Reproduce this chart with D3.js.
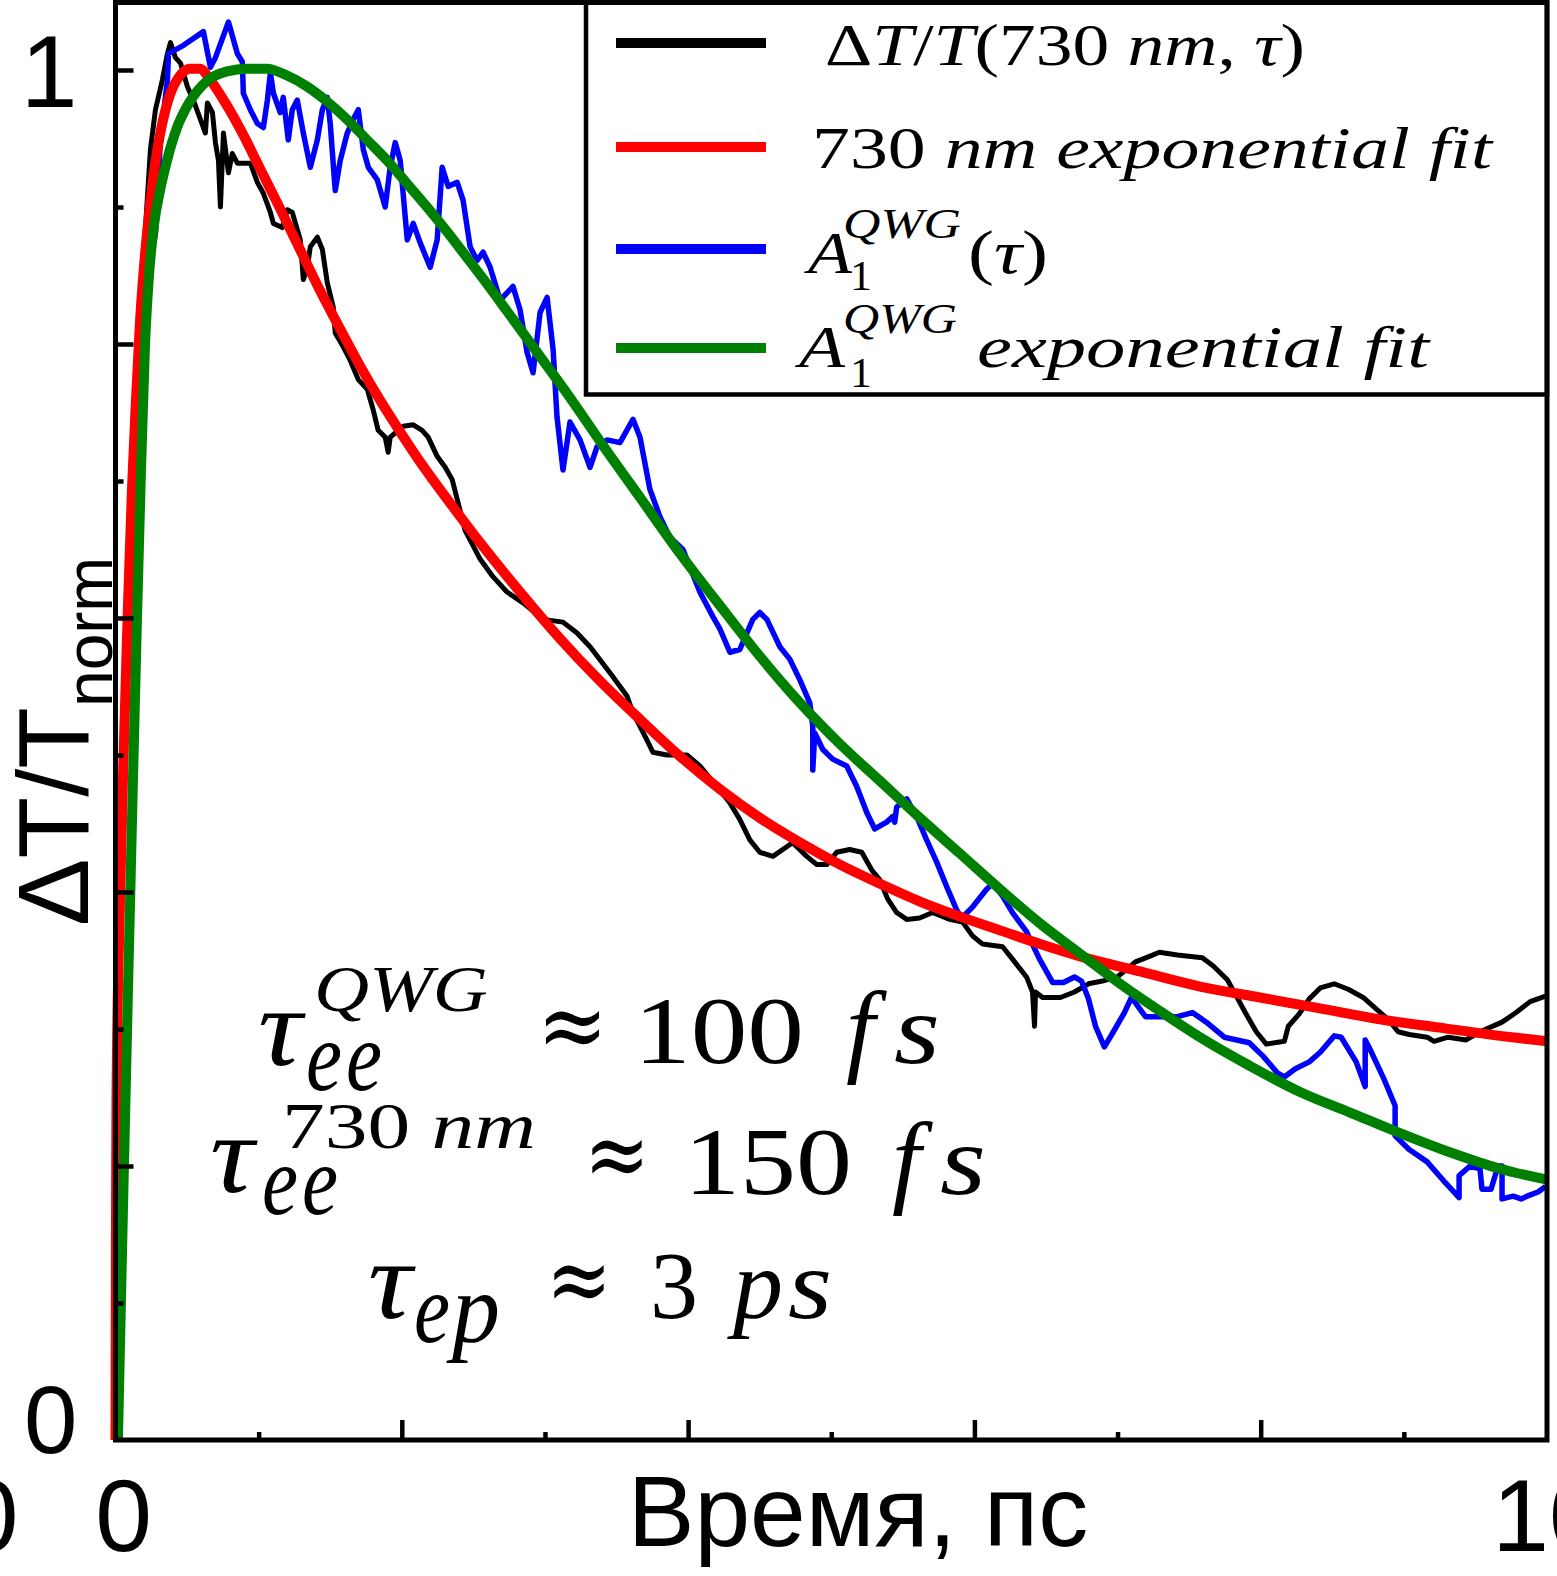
<!DOCTYPE html>
<html>
<head>
<meta charset="utf-8">
<script src="https://cdn.jsdelivr.net/npm/d3@7"></script>
<style>
  html, body { margin: 0; padding: 0; background: #fff; }
  svg { display: block; }
</style>
</head>
<body>
<svg id="chart" width="1557" height="1576"></svg>
<script>
// ---- data: time in ps, normalised ΔT/T ----
const timeDomain = [0, 10];
const signalDomain = [0, 1.05];
const timeTickLabels = ["0", "10"];
const signalTickLabels = ["0", "1"];
const timeMajorTicks = [2, 4, 6, 8];
const timeMinorTicks = [1, 3, 5, 7, 9];
const signalMajorTicks = [0.2, 0.4, 0.6, 0.8, 1.0];
const signalMinorTicks = [0.1, 0.3, 0.5, 0.7, 0.9];

// ΔT/T at 730 nm (measured)
const dt730 = [
  [0.007,0.001],[0.021,0.103],[0.049,0.249],[0.091,0.358],[0.119,0.431],[0.147,0.540],
  [0.174,0.686],[0.195,0.861],[0.244,0.942],[0.279,0.971],[0.328,0.993],[0.363,1.012],
  [0.384,1.020],[0.419,1.009],[0.454,1.005],[0.502,0.988],[0.544,0.978],[0.593,0.964],
  [0.628,0.954],[0.642,0.976],[0.677,0.969],[0.698,0.947],[0.719,0.934],[0.733,0.900],
  [0.754,0.954],[0.789,0.925],[0.816,0.939],[0.851,0.932],[0.942,0.932],[0.991,0.918],
  [1.033,0.910],[1.082,0.896],[1.103,0.888],[1.165,0.885],[1.200,0.898],[1.235,0.896],
  [1.291,0.876],[1.312,0.847],[1.340,0.856],[1.361,0.871],[1.410,0.878],[1.445,0.869],
  [1.479,0.845],[1.521,0.827],[1.535,0.808],[1.591,0.798],[1.640,0.788],[1.696,0.774],
  [1.759,0.767],[1.800,0.752],[1.835,0.737],[1.884,0.732],[1.905,0.721],[1.919,0.732],
  [1.954,0.735],[2.010,0.740],[2.080,0.741],[2.142,0.737],[2.184,0.732],[2.247,0.718],
  [2.303,0.710],[2.352,0.701],[2.442,0.664],[2.547,0.643],[2.638,0.630],[2.735,0.619],
  [2.847,0.611],[2.987,0.599],[3.126,0.597],[3.224,0.589],[3.315,0.579],[3.454,0.560],
  [3.573,0.543],[3.615,0.531],[3.712,0.511],[3.754,0.502],[3.852,0.500],[3.992,0.500],
  [4.082,0.492],[4.201,0.477],[4.292,0.465],[4.361,0.453],[4.431,0.438],[4.501,0.429],
  [4.592,0.426],[4.689,0.433],[4.731,0.436],[4.829,0.426],[4.899,0.420],[4.969,0.420],
  [5.038,0.429],[5.129,0.431],[5.213,0.429],[5.283,0.416],[5.338,0.409],[5.394,0.395],
  [5.457,0.385],[5.527,0.380],[5.618,0.381],[5.708,0.385],[5.827,0.380],[5.918,0.378],
  [5.987,0.368],[6.057,0.362],[6.197,0.360],[6.266,0.351],[6.364,0.338],[6.406,0.327],
  [6.420,0.302],[6.427,0.327],[6.476,0.323],[6.601,0.323],[6.699,0.327],[6.797,0.333],
  [6.894,0.335],[6.999,0.338],[7.125,0.349],[7.223,0.353],[7.292,0.356],[7.418,0.354],
  [7.592,0.352],[7.669,0.346],[7.767,0.336],[7.830,0.324],[7.892,0.312],[7.969,0.298],
  [8.039,0.289],[8.165,0.291],[8.193,0.302],[8.269,0.311],[8.339,0.322],[8.416,0.330],
  [8.514,0.333],[8.611,0.329],[8.716,0.323],[8.814,0.314],[8.890,0.307],[8.960,0.298],
  [9.037,0.296],[9.163,0.294],[9.211,0.291],[9.309,0.294],[9.435,0.292],[9.532,0.298],
  [9.686,0.305],[9.784,0.312],[9.882,0.320],[9.990,0.324]
];

// exponential fit of the 730 nm trace
const fit730 = [
  [0.000,0.000],[0.003,0.148],[0.007,0.249],[0.031,0.392],[0.059,0.509],[0.087,0.609],
  [0.115,0.694],[0.143,0.759],[0.171,0.816],[0.206,0.865],[0.241,0.901],[0.276,0.931],
  [0.311,0.953],[0.381,0.982],[0.451,0.996],[0.521,1.001],[0.590,1.001],[0.660,0.993],
  [0.779,0.974],[0.891,0.953],[1.010,0.928],[1.149,0.899],[1.289,0.869],[1.429,0.839],
  [1.569,0.811],[1.708,0.784],[1.848,0.759],[1.988,0.736],[2.128,0.714],[2.337,0.684],
  [2.547,0.655],[2.826,0.619],[3.105,0.585],[3.385,0.554],[3.664,0.526],[3.944,0.499],
  [4.223,0.475],[4.502,0.454],[4.782,0.436],[5.061,0.420],[5.341,0.406],[5.620,0.393],
  [5.900,0.382],[6.179,0.372],[6.459,0.362],[6.738,0.353],[7.157,0.342],[7.576,0.331],
  [7.995,0.323],[8.414,0.315],[8.833,0.307],[9.252,0.301],[9.671,0.295],[10.0,0.291]
];

// A1 amplitude of the QWG mode (measured)
const a1qwg = [
  [0.014,0.001],[0.070,0.249],[0.119,0.468],[0.161,0.613],[0.188,0.723],[0.216,0.810],
  [0.258,0.869],[0.279,0.881],[0.314,0.949],[0.363,0.993],[0.370,1.012],[0.475,1.018],
  [0.614,1.028],[0.663,1.002],[0.698,1.009],[0.789,1.035],[0.851,1.012],[0.886,1.006],
  [0.893,0.983],[0.942,0.971],[0.991,0.961],[1.033,0.958],[1.061,0.978],[1.082,0.998],
  [1.103,0.983],[1.151,0.969],[1.172,0.980],[1.207,0.949],[1.235,0.971],[1.270,0.978],
  [1.312,0.954],[1.361,0.929],[1.410,0.949],[1.445,0.971],[1.479,0.980],[1.500,0.961],
  [1.535,0.912],[1.570,0.934],[1.619,0.954],[1.661,0.964],[1.696,0.971],[1.731,0.942],
  [1.766,0.929],[1.828,0.920],[1.884,0.900],[1.919,0.929],[1.954,0.947],[1.989,0.934],
  [2.038,0.876],[2.080,0.888],[2.128,0.874],[2.198,0.856],[2.247,0.876],[2.282,0.929],
  [2.324,0.915],[2.387,0.918],[2.428,0.905],[2.477,0.871],[2.526,0.861],[2.568,0.867],
  [2.617,0.856],[2.687,0.832],[2.777,0.842],[2.826,0.825],[2.875,0.794],[2.917,0.779],
  [2.966,0.823],[3.015,0.834],[3.057,0.796],[3.084,0.747],[3.126,0.708],[3.175,0.743],
  [3.245,0.730],[3.315,0.710],[3.364,0.725],[3.433,0.730],[3.524,0.728],[3.615,0.745],
  [3.664,0.732],[3.733,0.694],[3.803,0.674],[3.873,0.659],[3.964,0.650],[4.013,0.637],
  [4.082,0.619],[4.173,0.601],[4.222,0.592],[4.292,0.575],[4.361,0.577],[4.452,0.599],
  [4.501,0.604],[4.550,0.599],[4.641,0.579],[4.710,0.570],[4.780,0.555],[4.850,0.538],
  [4.871,0.521],[4.871,0.489],[4.885,0.516],[4.941,0.504],[5.010,0.497],[5.108,0.492],
  [5.178,0.477],[5.248,0.458],[5.304,0.446],[5.387,0.451],[5.429,0.455],[5.443,0.451],
  [5.457,0.462],[5.527,0.468],[5.597,0.455],[5.666,0.438],[5.736,0.422],[5.806,0.404],
  [5.876,0.387],[5.911,0.381],[5.987,0.389],[6.085,0.402],[6.127,0.406],[6.197,0.397],
  [6.266,0.385],[6.364,0.371],[6.455,0.351],[6.546,0.334],[6.622,0.334],[6.699,0.338],
  [6.748,0.335],[6.797,0.322],[6.846,0.302],[6.908,0.287],[6.971,0.298],[7.048,0.312],
  [7.097,0.323],[7.195,0.309],[7.418,0.309],[7.523,0.312],[7.620,0.305],[7.746,0.294],
  [7.920,0.290],[8.018,0.280],[8.116,0.268],[8.165,0.265],[8.242,0.271],[8.339,0.276],
  [8.416,0.283],[8.514,0.295],[8.562,0.294],[8.667,0.276],[8.730,0.258],[8.730,0.292],
  [8.765,0.285],[8.863,0.263],[8.939,0.244],[8.939,0.222],[9.037,0.212],[9.163,0.203],
  [9.288,0.188],[9.386,0.177],[9.386,0.193],[9.463,0.200],[9.532,0.198],[9.546,0.183],
  [9.609,0.183],[9.658,0.200],[9.686,0.200],[9.686,0.176],[9.763,0.178],[9.819,0.176],
  [9.861,0.178],[9.937,0.181],[9.990,0.185]
];

// exponential fit of A1 (QWG)
const fitQwg = [
  [0.017,0.000],[0.052,0.168],[0.087,0.328],[0.122,0.482],[0.150,0.599],[0.178,0.708],
  [0.206,0.799],[0.234,0.850],[0.269,0.887],[0.311,0.912],[0.360,0.934],[0.430,0.958],
  [0.520,0.977],[0.639,0.992],[0.779,0.999],[0.919,1.001],[1.058,1.001],[1.198,0.996],
  [1.338,0.988],[1.478,0.977],[1.617,0.964],[1.757,0.949],[1.897,0.934],[2.037,0.917],
  [2.176,0.900],[2.316,0.882],[2.456,0.863],[2.595,0.844],[2.735,0.824],[2.875,0.804],
  [3.014,0.784],[3.154,0.764],[3.385,0.729],[3.664,0.688],[3.944,0.647],[4.223,0.609],
  [4.502,0.572],[4.782,0.538],[5.061,0.508],[5.341,0.481],[5.620,0.454],[5.900,0.428],
  [6.179,0.402],[6.459,0.377],[6.738,0.355],[7.018,0.333],[7.297,0.313],[7.576,0.294],
  [7.926,0.273],[8.275,0.254],[8.624,0.239],[8.973,0.224],[9.322,0.210],[9.671,0.198],
  [10.0,0.190]
];

// ---- layout ----
const svg = d3.select("#chart");
const plotLeft = 115.5, plotRight = 1547, plotTop = 1.5, plotBottom = 1440;
const x = d3.scaleLinear().domain(timeDomain).range([plotLeft, plotRight]);
const y = d3.scaleLinear().domain(signalDomain).range([plotBottom, plotTop]);

const sans = "'Liberation Sans', Arial, sans-serif";
const serif = "'Liberation Serif', 'Times New Roman', serif";

// ---- curves ----
const rawLine = d3.line().x(d => x(d[0])).y(d => y(d[1]));
const fitLine = d3.line().x(d => x(d[0])).y(d => y(d[1])).curve(d3.curveMonotoneX);

const plot = svg.append("g");
plot.append("path").datum(dt730).attr("d", rawLine)
  .attr("fill", "none").attr("stroke", "#000").attr("stroke-width", 5).attr("stroke-linejoin", "round");
plot.append("path").datum(a1qwg).attr("d", rawLine)
  .attr("fill", "none").attr("stroke", "#0000ff").attr("stroke-width", 5.5).attr("stroke-linejoin", "round");
plot.append("path").datum(fit730).attr("d", fitLine)
  .attr("fill", "none").attr("stroke", "#ff0000").attr("stroke-width", 10);
plot.append("path").datum(fitQwg).attr("d", fitLine)
  .attr("fill", "none").attr("stroke", "#008000").attr("stroke-width", 10);

// ---- ticks (inside the frame) ----
function tickAxis(axis, values, size, transform) {
  const g = svg.append("g").attr("transform", transform)
    .call(axis.tickValues(values).tickSize(size).tickSizeOuter(0).tickFormat(""));
  g.select(".domain").remove();
  g.selectAll(".tick line").attr("stroke", "#000").attr("stroke-width", 4.5);
}
tickAxis(d3.axisLeft(y), signalMajorTicks, -18, `translate(${plotLeft},0)`);
tickAxis(d3.axisLeft(y), signalMinorTicks, -8, `translate(${plotLeft},0)`);
tickAxis(d3.axisBottom(x), timeMajorTicks, -20, `translate(0,${plotBottom})`);
tickAxis(d3.axisBottom(x), timeMinorTicks, -8, `translate(0,${plotBottom})`);

// ---- legend ----
const legendX0 = 586;
const legend = svg.append("g");
legend.append("rect").attr("x", legendX0).attr("y", plotTop + 1)
  .attr("width", plotRight - legendX0).attr("height", 392)
  .attr("fill", "#fff").attr("stroke", "#000").attr("stroke-width", 4.5);

const legendRows = [
  { color: "#000", ly: 43 },
  { color: "#ff0000", ly: 147 },
  { color: "#0000ff", ly: 249 },
  { color: "#008000", ly: 348 }
];
legendRows.forEach(r => {
  legend.append("line").attr("x1", 616).attr("x2", 766).attr("y1", r.ly).attr("y2", r.ly)
    .attr("stroke", r.color).attr("stroke-width", 10);
});

// math-style text: a run of [string, italic] pieces, optionally fitted to a width
function mtext(parent, px, py, size, len, parts, family) {
  const t = parent.append("text").attr("x", px).attr("y", py)
    .attr("font-family", family || serif).attr("font-size", size).attr("fill", "#000");
  if (len) t.attr("textLength", len).attr("lengthAdjust", "spacingAndGlyphs");
  parts.forEach(p => t.append("tspan").attr("font-style", p[1] ? "italic" : "normal").text(p[0]));
  return t;
}
const approxFont = "'DejaVu Serif', serif";

mtext(legend, 825, 65, 60, 480,
  [["Δ", 0], ["T", 1], ["/", 0], ["T", 1], ["(730 ", 0], ["nm", 1], [", ", 0], ["τ", 1], [")", 0]]);
mtext(legend, 812, 168, 60, 680, [["730 ", 0], ["nm exponential fit", 1]]);
mtext(legend, 808, 273, 60, 44, [["A", 1]]);
mtext(legend, 850, 290, 42, 22, [["1", 0]]);
mtext(legend, 843, 238, 42, 118, [["QWG", 1]]);
mtext(legend, 968, 273, 62, 80, [["(", 0], ["τ", 1], [")", 0]]);
mtext(legend, 799, 367, 60, 46, [["A", 1]]);
mtext(legend, 850, 387, 42, 22, [["1", 0]]);
mtext(legend, 843, 333, 42, 114, [["QWG", 1]]);
mtext(legend, 977, 367, 60, 452, [["exponential fit", 1]]);

// ---- relaxation-time annotations ----
const notes = svg.append("g");
// τ_ee^QWG ≈ 100 fs
mtext(notes, 258, 1065, 112, 44, [["τ", 1]]);
mtext(notes, 314, 1011, 66, 174, [["QWG", 1]]);
mtext(notes, 306, 1090, 100, 36, [["e", 1]]);
mtext(notes, 346, 1090, 100, 36, [["e", 1]]);
mtext(notes, 537, 1058, 96, 71, [["≈", 0]], approxFont);
mtext(notes, 634, 1063, 96, 170, [["100", 0]]);
mtext(notes, 846, 1063, 104, null, [["f", 1]]);
mtext(notes, 894, 1063, 100, 46, [["s", 1]]);
// τ_ee^730nm ≈ 150 fs
mtext(notes, 210, 1192, 112, 44, [["τ", 1]]);
mtext(notes, 282, 1148, 66, 254, [["730 ", 0], ["nm", 1]]);
mtext(notes, 262, 1214, 100, 36, [["e", 1]]);
mtext(notes, 302, 1214, 100, 36, [["e", 1]]);
mtext(notes, 584, 1187, 96, 66, [["≈", 0]], approxFont);
mtext(notes, 684, 1194, 96, 168, [["150", 0]]);
mtext(notes, 892, 1194, 104, null, [["f", 1]]);
mtext(notes, 940, 1194, 100, 46, [["s", 1]]);
// τ_ep ≈ 3 ps
mtext(notes, 368, 1318, 112, 44, [["τ", 1]]);
mtext(notes, 414, 1342, 100, 36, [["e", 1]]);
mtext(notes, 452, 1342, 100, 48, [["p", 1]]);
mtext(notes, 546, 1312, 96, 66, [["≈", 0]], approxFont);
mtext(notes, 650, 1318, 96, 48, [["3", 0]]);
mtext(notes, 733, 1318, 100, 50, [["p", 1]]);
mtext(notes, 788, 1318, 100, 44, [["s", 1]]);

// ---- frame ----
svg.append("rect").attr("x", plotLeft).attr("y", plotTop + 1)
  .attr("width", plotRight - plotLeft).attr("height", plotBottom - plotTop - 1)
  .attr("fill", "none").attr("stroke", "#000").attr("stroke-width", 5);

// ---- tick labels ----
const labels = svg.append("g").attr("font-family", sans).attr("fill", "#000");
labels.append("text").attr("x", plotLeft - 38).attr("y", y(1) + 37)
  .attr("text-anchor", "end").attr("font-size", 102).text(signalTickLabels[1]);
labels.append("text").attr("x", plotLeft - 38).attr("y", y(0) + 13)
  .attr("text-anchor", "end").attr("font-size", 96).text(signalTickLabels[0]);
labels.append("text").attr("x", x(0) + 8).attr("y", 1551)
  .attr("text-anchor", "middle").attr("font-size", 102).text(timeTickLabels[0]);
labels.append("text").attr("x", x(10) + 2).attr("y", 1551)
  .attr("text-anchor", "middle").attr("font-size", 102).text(timeTickLabels[1]);
// neighbouring panel's axis label, clipped by the page edge
labels.append("text").attr("x", -10).attr("y", 1551)
  .attr("text-anchor", "middle").attr("font-size", 102).text("0");

// ---- axis titles ----
labels.append("text").attr("x", 858).attr("y", 1546)
  .attr("text-anchor", "middle").attr("font-size", 100).text("Время, пс");

const yTitle = labels.append("text")
  .attr("transform", "translate(88,926) rotate(-90)")
  .attr("font-size", 101);
yTitle.append("tspan").text("ΔT/T");
yTitle.append("tspan").attr("font-size", 66).attr("dy", 24).text("norm");
</script>
</body>
</html>
